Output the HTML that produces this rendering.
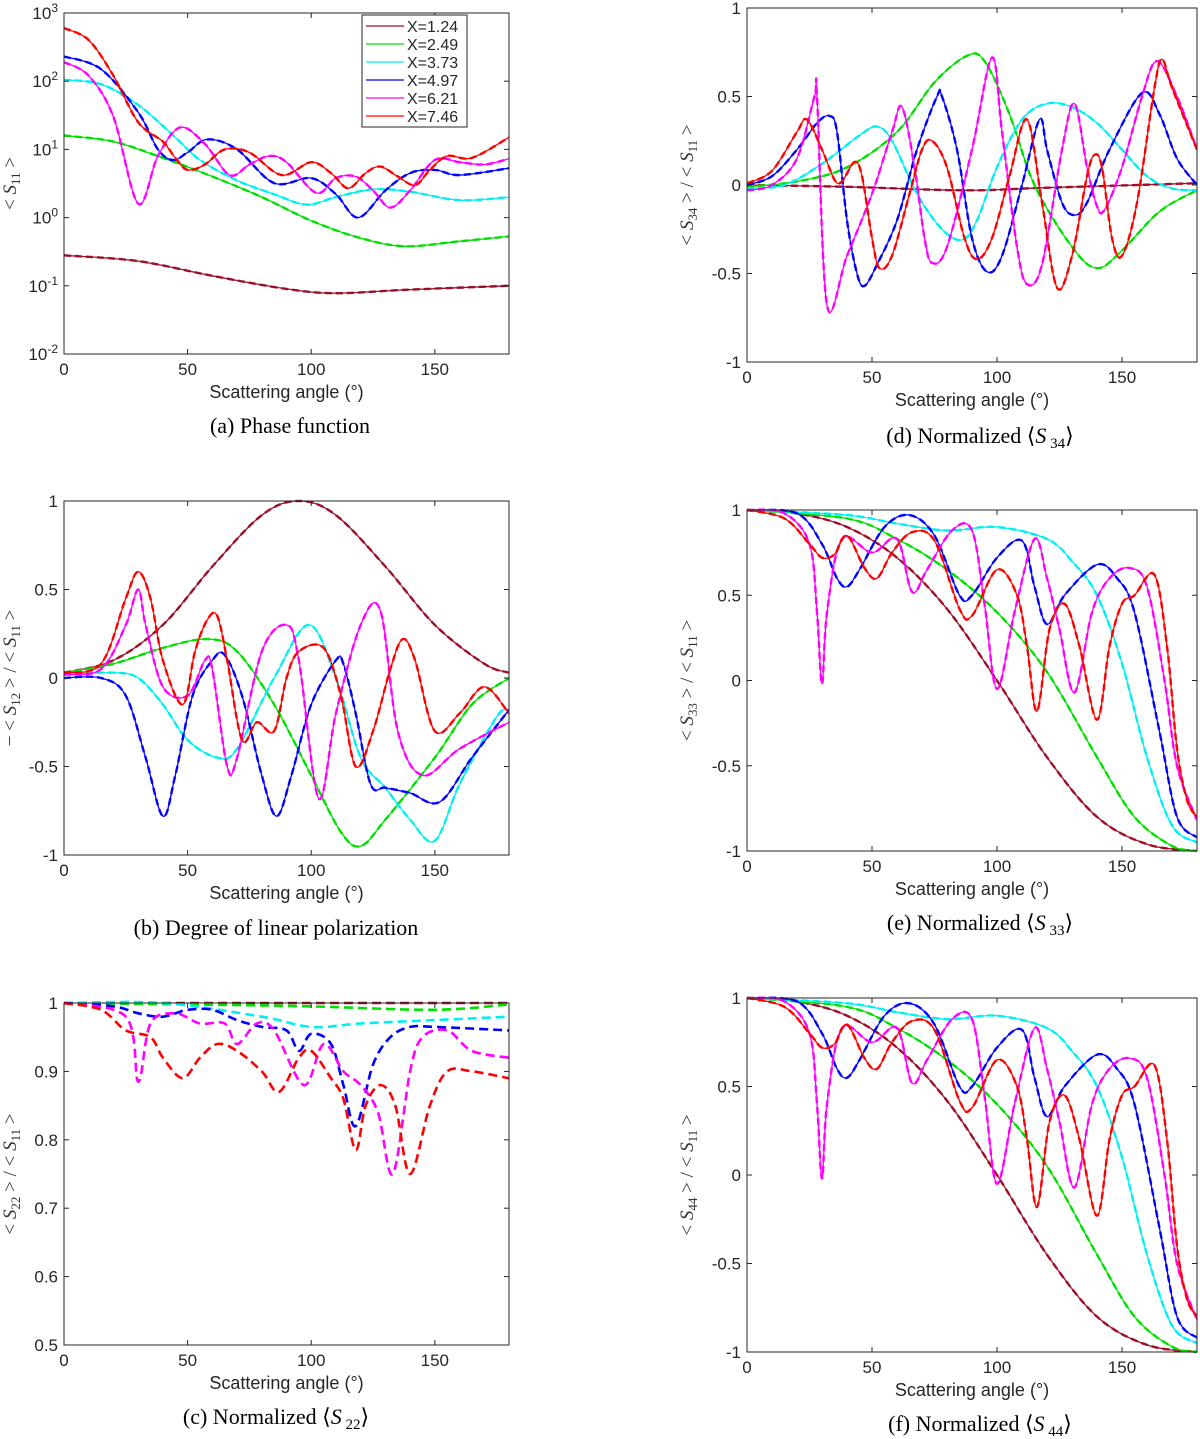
<!DOCTYPE html>
<html><head><meta charset="utf-8">
<style>
body{margin:0;background:#fff;}
svg{display:block;font-family:"Liberation Sans",sans-serif;}
</style></head>
<body>
<svg id="fig" width="1200" height="1439" viewBox="0 0 1200 1439" xmlns="http://www.w3.org/2000/svg"></svg>
<script>
// ---------- data ----------
const colors = ["#9b1028","#00e000","#00f0f0","#0000ff","#ff00ff","#ff0000"];
const legendLabels = ["X=1.24","X=2.49","X=3.73","X=4.97","X=6.21","X=7.46"];
const xTicks = [0,50,100,150];

// Panel a (S11, log)
const a_maroon=[[0,0.28],[30,0.23],[60,0.14],[90,0.09],[110,0.078],[140,0.088],[180,0.1]];
const a_green=[[0,16],[20,13],[40,7.5],[60,4],[80,2],[100,0.9],[120,0.5],[138,0.38],[160,0.45],[180,0.53]];
const a_cyan=[[0,105],[15,90],[30,45],[45,15],[55,7],[70,3.5],[85,2.2],[98,1.55],[110,2],[125,2.6],[140,2.4],[160,1.8],[180,2]];
const a_blue=[[0,230],[15,150],[30,35],[38,10],[44,7],[50,9],[58,14],[70,10],[85,3.2],[100,3.8],[110,2.2],[119,1],[130,2.5],[140,4.5],[150,5],[160,4.2],[180,5.3]];
const a_magenta=[[0,190],[10,120],[20,30],[30,1.6],[38,8],[47,21],[57,12],[67,4.2],[75,6],[83,8],[90,6.5],[102,2.3],[110,3.8],[118,4],[125,2.5],[132,1.4],[140,2.5],[150,7],[160,6.5],[170,6],[180,7.3]];
const a_red=[[0,600],[10,400],[20,120],[30,25],[40,13],[45,7.5],[50,5],[57,6],[65,10],[75,9],[88,4.2],[100,6.5],[108,4.5],[115,2.7],[122,4.5],[128,5.6],[135,4],[142,3],[148,5],[155,8],[165,7.5],[180,15]];

// Panel b (-S12/S11)
const b_maroon=[[0,0.03],[20,0.1],[40,0.3],[60,0.63],[80,0.92],[95,1.0],[110,0.92],[130,0.63],[150,0.3],[170,0.08],[180,0.03]];
const b_green=[[0,0.03],[20,0.08],[40,0.17],[58,0.22],[70,0.15],[85,-0.15],[100,-0.55],[112,-0.87],[120,-0.95],[130,-0.8],[150,-0.45],[165,-0.15],[180,0.0]];
const b_cyan=[[0,0.02],[20,0.03],[30,0.0],[40,-0.15],[50,-0.35],[62,-0.45],[70,-0.4],[85,0.0],[99,0.3],[110,0.0],[120,-0.45],[130,-0.62],[140,-0.8],[150,-0.92],[160,-0.6],[175,-0.22],[180,-0.18]];
const b_blue=[[0,0.0],[15,0.0],[25,-0.1],[33,-0.45],[40,-0.78],[45,-0.55],[52,-0.1],[60,0.1],[65,0.13],[72,-0.1],[80,-0.55],[86,-0.78],[92,-0.55],[100,-0.15],[110,0.1],[113,0.08],[118,-0.2],[124,-0.6],[130,-0.62],[140,-0.65],[152,-0.7],[165,-0.45],[180,-0.18]];
const b_magenta=[[0,0.02],[15,0.05],[25,0.3],[30,0.5],[33,0.3],[40,-0.05],[50,-0.1],[57,0.1],[60,0.05],[66,-0.5],[70,-0.45],[80,0.15],[90,0.3],[95,0.1],[103,-0.68],[110,-0.2],[120,0.3],[128,0.38],[135,-0.3],[145,-0.55],[160,-0.4],[180,-0.25]];
const b_red=[[0,0.03],[15,0.08],[25,0.45],[30,0.6],[35,0.45],[40,0.1],[48,-0.15],[53,0.15],[58,0.33],[62,0.35],[66,0.1],[72,-0.35],[78,-0.25],[85,-0.3],[90,0.0],[95,0.15],[105,0.17],[112,-0.1],[118,-0.5],[125,-0.3],[132,0.05],[137,0.22],[142,0.1],[150,-0.3],[160,-0.2],[170,-0.05],[180,-0.2]];

// Panel c (S22/S11)
const c_maroon=[[0,1],[90,1],[180,1]];
const c_green=[[0,1],[50,0.998],[100,0.995],[150,0.99],[180,0.998]];
const c_cyan=[[0,1],[40,1],[80,0.98],[100,0.965],[120,0.97],[150,0.975],[180,0.98]];
const c_blue=[[0,1],[20,0.995],[30,0.985],[40,0.98],[50,0.99],[60,0.99],[70,0.975],[80,0.965],[90,0.96],[95,0.93],[100,0.955],[108,0.94],[113,0.88],[118,0.82],[125,0.91],[132,0.95],[140,0.965],[150,0.965],[180,0.96]];
const c_magenta=[[0,1],[25,0.98],[30,0.885],[35,0.97],[45,0.985],[55,0.97],[65,0.97],[70,0.94],[78,0.97],[85,0.96],[97,0.88],[105,0.94],[113,0.9],[120,0.88],[127,0.84],[133,0.75],[140,0.9],[145,0.95],[155,0.96],[165,0.93],[180,0.92]];
const c_red=[[0,1],[15,0.99],[25,0.96],[35,0.95],[40,0.92],[48,0.89],[55,0.92],[62,0.94],[70,0.93],[80,0.9],[87,0.87],[95,0.92],[100,0.93],[108,0.89],[113,0.86],[118,0.785],[122,0.85],[128,0.88],[134,0.85],[140,0.75],[148,0.85],[155,0.9],[165,0.9],[180,0.89]];

// Panel d (S34/S11)
const d_maroon=[[0,0],[40,-0.01],[87,-0.03],[120,-0.015],[180,0.01]];
const d_green=[[0,-0.01],[20,0.02],[40,0.1],[60,0.3],[75,0.58],[88,0.73],[95,0.7],[105,0.4],[115,0.0],[130,-0.35],[140,-0.47],[150,-0.37],[165,-0.15],[180,-0.03]];
const d_cyan=[[0,-0.02],[15,0.0],[30,0.12],[45,0.28],[52,0.33],[58,0.25],[68,-0.05],[78,-0.25],[86,-0.31],[92,-0.2],[100,0.1],[110,0.37],[120,0.46],[130,0.44],[140,0.35],[150,0.2],[160,0.05],[170,-0.02],[180,-0.03]];
const d_blue=[[0,0.0],[10,0.05],[20,0.2],[28,0.35],[33,0.39],[36,0.3],[40,-0.2],[44,-0.5],[47,-0.57],[52,-0.45],[60,-0.2],[68,0.2],[76,0.5],[78,0.5],[84,0.2],[90,-0.3],[96,-0.49],[102,-0.4],[110,0.0],[117,0.37],[120,0.2],[126,-0.1],[131,-0.17],[136,-0.1],[145,0.2],[158,0.52],[165,0.4],[172,0.15],[180,0.0]];
const d_magenta=[[0,-0.03],[10,0.0],[20,0.15],[27,0.5],[28,0.5],[32,-0.68],[40,-0.4],[50,-0.05],[58,0.3],[62,0.44],[67,0.1],[71,-0.3],[74,-0.44],[80,-0.35],[90,0.2],[98,0.72],[102,0.3],[108,-0.35],[112,-0.56],[118,-0.45],[126,0.2],[131,0.46],[136,0.1],[140,-0.12],[143,-0.14],[150,0.1],[158,0.5],[164,0.7],[172,0.5],[180,0.2]];
const d_red=[[0,0.01],[10,0.08],[20,0.3],[24,0.37],[30,0.2],[35,0.03],[38,0.02],[43,0.13],[46,0.05],[50,-0.3],[53,-0.47],[58,-0.4],[65,-0.05],[70,0.2],[74,0.25],[80,0.1],[87,-0.3],[92,-0.42],[98,-0.3],[105,0.05],[112,0.37],[118,-0.1],[124,-0.58],[130,-0.4],[136,0.05],[139,0.17],[142,0.1],[146,-0.3],[150,-0.4],[156,-0.1],[163,0.55],[166,0.71],[170,0.55],[180,0.2]];

// Panel e / f (S33, S44)
const e_maroon=[[0,1],[20,0.98],[40,0.9],[60,0.72],[80,0.42],[100,0.0],[120,-0.45],[140,-0.8],[160,-0.96],[180,-1]];
const e_green=[[0,1],[40,0.95],[60,0.83],[80,0.65],[100,0.4],[120,0.05],[140,-0.45],[155,-0.8],[170,-0.97],[180,-1]];
const e_cyan=[[0,1],[40,0.97],[60,0.92],[80,0.88],[100,0.9],[120,0.83],[130,0.7],[140,0.5],[150,0.1],[160,-0.45],[170,-0.85],[180,-0.95]];
const e_blue=[[0,1],[20,0.98],[30,0.8],[36,0.6],[40,0.55],[45,0.65],[55,0.9],[65,0.97],[75,0.85],[85,0.5],[90,0.5],[100,0.72],[110,0.82],[115,0.55],[120,0.33],[127,0.5],[140,0.68],[148,0.6],[155,0.4],[165,-0.3],[172,-0.8],[180,-0.92]];
const e_magenta=[[0,1],[15,0.98],[25,0.8],[28,0.4],[30,-0.02],[32,0.4],[38,0.83],[50,0.75],[60,0.83],[66,0.52],[72,0.65],[82,0.88],[90,0.88],[95,0.45],[100,-0.05],[107,0.4],[115,0.83],[120,0.6],[125,0.3],[131,-0.07],[138,0.4],[145,0.6],[153,0.66],[160,0.55],[167,0.0],[172,-0.5],[180,-0.82]];
const e_red=[[0,1],[15,0.95],[25,0.8],[30,0.72],[35,0.74],[40,0.85],[47,0.66],[52,0.6],[58,0.75],[66,0.87],[75,0.82],[85,0.42],[90,0.38],[100,0.65],[108,0.5],[112,0.2],[116,-0.18],[121,0.3],[127,0.45],[133,0.2],[140,-0.23],[145,0.2],[150,0.45],[155,0.5],[163,0.62],[168,0.2],[172,-0.4],[176,-0.7],[180,-0.8]];

// ---------- drawing ----------
const NS="http://www.w3.org/2000/svg";
const svg=document.getElementById('fig');
function mk(tag,attrs,parent){const e=document.createElementNS(NS,tag);for(const k in attrs)e.setAttribute(k,attrs[k]);(parent||svg).appendChild(e);return e;}

function smoothPath(pts){
  let d="M"+pts[0][0].toFixed(1)+","+pts[0][1].toFixed(1);
  for(let i=0;i<pts.length-1;i++){
    const p0=pts[Math.max(0,i-1)],p1=pts[i],p2=pts[i+1],p3=pts[Math.min(pts.length-1,i+2)];
    const c1x=p1[0]+(p2[0]-p0[0])/6,c1y=p1[1]+(p2[1]-p0[1])/6;
    const c2x=p2[0]-(p3[0]-p1[0])/6,c2y=p2[1]-(p3[1]-p1[1])/6;
    d+=" C"+c1x.toFixed(1)+","+c1y.toFixed(1)+" "+c2x.toFixed(1)+","+c2y.toFixed(1)+" "+p2[0].toFixed(1)+","+p2[1].toFixed(1);
  }
  return d;
}

function panel(cfg){
  const g=mk('g',{});
  
  
  const xs=v=>cfg.L+(v/180)*(cfg.R-cfg.L);
  const ys=cfg.log
    ? v=>cfg.B-(Math.log10(v)-cfg.ymin)/(cfg.ymax-cfg.ymin)*(cfg.B-cfg.T)
    : v=>cfg.B-(v-cfg.ymin)/(cfg.ymax-cfg.ymin)*(cfg.B-cfg.T);
  const clip='clip-'+cfg.name;
  const cp=mk('clipPath',{id:clip},g);mk('rect',{x:cfg.L,y:cfg.T-4,width:cfg.R-cfg.L,height:cfg.B-cfg.T+8},cp);
  const sg=mk('g',{'clip-path':'url(#'+clip+')'},g);
  cfg.series.forEach((s,i)=>{
    const pts=s.map(p=>[xs(p[0]),ys(p[1])]);
    const d=smoothPath(pts);
    if(!cfg.dashOnly){
      const l=mk('path',{d:d,fill:'none',stroke:colors[i],'stroke-width':1.3},sg);
      
      
    }
    const dl=mk('path',{d:d,fill:'none',stroke:colors[i],'stroke-width':cfg.dashOnly?2.6:2.4,'stroke-dasharray':cfg.dashOnly?'9,5':'7,4'},sg);
    
    
  });
  const box=mk('rect',{x:cfg.L,y:cfg.T,width:cfg.R-cfg.L,height:cfg.B-cfg.T,fill:'none',stroke:'#262626','stroke-width':1},g);
  
  
  xTicks.forEach(t=>{
    const x=xs(t);
    mk('line',{x1:x,y1:cfg.B,x2:x,y2:cfg.B-5,stroke:'#262626'},g);
    mk('line',{x1:x,y1:cfg.T,x2:x,y2:cfg.T+5,stroke:'#262626'},g);
    const tx=mk('text',{x:x,y:cfg.B+21,'font-size':17,'text-anchor':'middle',fill:'#262626'},g);
    tx.textContent=t;
    
    
  });
  cfg.yticks.forEach(t=>{
    const y=cfg.log?ys(Math.pow(10,t)):ys(t);
    mk('line',{x1:cfg.L,y1:y,x2:cfg.L+5,y2:y,stroke:'#262626'},g);
    mk('line',{x1:cfg.R,y1:y,x2:cfg.R-5,y2:y,stroke:'#262626'},g);
    const tx=mk('text',{x:cfg.L-6,y:y+6,'font-size':17,'text-anchor':'end',fill:'#262626'},g);
    
    
    if(cfg.log){tx.textContent='10';const sp=mk('tspan',{dy:-7,'font-size':12},tx);sp.textContent=String(t);}
    else tx.textContent=String(t);
  });
  const xl=mk('text',{x:(cfg.L+cfg.R)/2,y:cfg.B+44,'font-size':18,'text-anchor':'middle',fill:'#262626'},g);
  xl.textContent='Scattering angle (°)';
  
  
  const cy=(cfg.T+cfg.B)/2;
  const yl=mk('text',{x:cfg.L-cfg.ylOff,y:cy,'font-size':19,'text-anchor':'middle',fill:'#333','font-family':'Liberation Serif, serif',transform:'rotate(-90 '+(cfg.L-cfg.ylOff)+' '+cy+')'},g);
  
  
  cfg.ylabel.forEach(part=>{const sp=mk('tspan',part.a||{},yl);sp.textContent=part.t;});
  const cap=mk('text',{x:cfg.capX,y:cfg.capY,'font-size':22,'text-anchor':'middle',fill:'#000','font-family':'Liberation Serif, serif'},g);
  
  
  cfg.caption.forEach(part=>{const sp=mk('tspan',part.a||{},cap);sp.textContent=part.t;});
  return {g,xs,ys};
}
const sub=s=>({t:s,a:{'font-size':13,dy:4}});
function ratioLabel(n){return [{t:(n==='12'?'− ':'')+'< '},{t:'S',a:{'font-style':'italic'}},sub(n),{t:' > / < ',a:{dy:-4}},{t:'S',a:{'font-style':'italic'}},sub('11'),{t:' >',a:{dy:-4}}];}
function capNorm(letter,n){return [{t:'('+letter+')  Normalized ⟨'},{t:'S',a:{'font-style':'italic'}},{t:' '+n,a:{'font-size':15,dy:5}},{t:'⟩',a:{dy:-5}}];}

panel({name:'panel-a-phase-function',L:64,R:509,T:13,B:354,log:true,ymin:-2,ymax:3,yticks:[-2,-1,0,1,2,3],
  series:[a_maroon,a_green,a_cyan,a_blue,a_magenta,a_red],
  ylabel:[{t:'< '},{t:'S',a:{'font-style':'italic'}},sub('11'),{t:' >',a:{dy:-4}}],ylOff:48,
  caption:[{t:'(a)  Phase function'}],capX:290,capY:433});
panel({name:'panel-b-linear-polarization',L:64,R:509,T:501,B:855,ymin:-1,ymax:1,yticks:[-1,-0.5,0,0.5,1],
  series:[b_maroon,b_green,b_cyan,b_blue,b_magenta,b_red],ylabel:ratioLabel('12'),ylOff:48,
  caption:[{t:'(b)  Degree of linear polarization'}],capX:276,capY:935});
panel({name:'panel-c-s22',L:64,R:509,T:1003,B:1345,ymin:0.5,ymax:1,yticks:[0.5,0.6,0.7,0.8,0.9,1],dashOnly:true,
  series:[c_maroon,c_green,c_cyan,c_blue,c_magenta,c_red],ylabel:ratioLabel('22'),ylOff:48,
  caption:capNorm('c','22'),capX:276,capY:1424});
panel({name:'panel-d-s34',L:747,R:1197,T:8,B:362,ymin:-1,ymax:1,yticks:[-1,-0.5,0,0.5,1],
  series:[d_maroon,d_green,d_cyan,d_blue,d_magenta,d_red],ylabel:ratioLabel('34'),ylOff:54,
  caption:capNorm('d','34'),capX:980,capY:443});
panel({name:'panel-e-s33',L:747,R:1197,T:510,B:851,ymin:-1,ymax:1,yticks:[-1,-0.5,0,0.5,1],
  series:[e_maroon,e_green,e_cyan,e_blue,e_magenta,e_red],ylabel:ratioLabel('33'),ylOff:54,
  caption:capNorm('e','33'),capX:980,capY:930});
panel({name:'panel-f-s44',L:747,R:1197,T:998,B:1352,ymin:-1,ymax:1,yticks:[-1,-0.5,0,0.5,1],
  series:[e_maroon,e_green,e_cyan,e_blue,e_magenta,e_red],ylabel:ratioLabel('44'),ylOff:54,
  caption:capNorm('f','44'),capX:980,capY:1431});

const lg=mk('g',{});


mk('rect',{x:362,y:15,width:105,height:112,fill:'#fff',stroke:'#262626','stroke-width':1},lg);
legendLabels.forEach((lab,i)=>{
  const y=26+i*18;
  const e=mk('g',{},lg);
  
  
  mk('line',{x1:366,y1:y,x2:404,y2:y,stroke:colors[i],'stroke-width':1.3},e);
  const t=mk('text',{x:407,y:y+6,'font-size':16,fill:'#262626'},e);
  t.textContent=lab;
});
</script>
</body></html>
